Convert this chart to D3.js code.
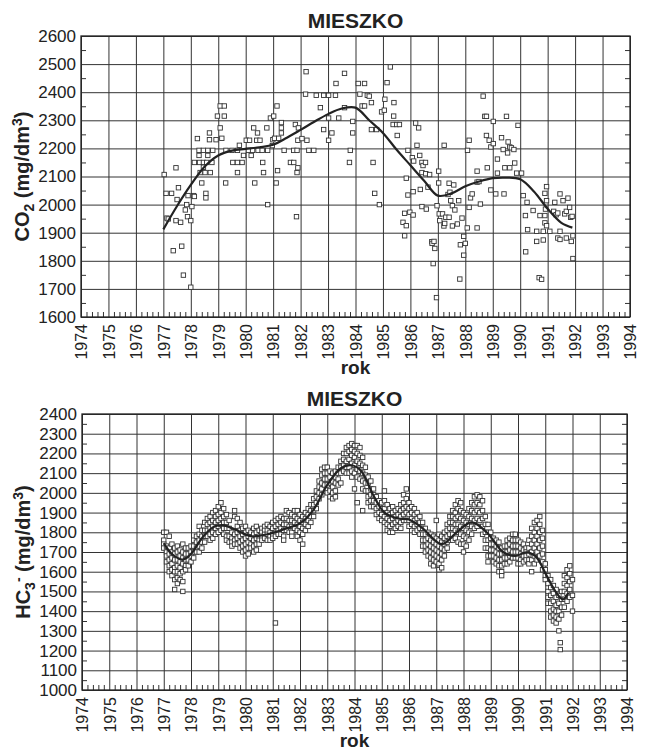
<!DOCTYPE html>
<html>
<head>
<meta charset="utf-8">
<script src="https://cdn.jsdelivr.net/npm/d3@7"></script>
<style>
body { margin: 0; background: #fff; }
text { font-family: "Liberation Sans", Arial, sans-serif; fill: #222; }
</style>
</head>
<body>
<script>
// values
const yearTicks = [1974, 1975, 1976, 1977, 1978, 1979, 1980, 1981, 1982, 1983, 1984,
    1985, 1986, 1987, 1988, 1989, 1990, 1991, 1992, 1993, 1994];
const co2Ticks = [1600, 1700, 1800, 1900, 2000, 2100, 2200, 2300, 2400, 2500, 2600];
const hcoTicks = [1000, 1100, 1200, 1300, 1400, 1500, 1600, 1700, 1800, 1900, 2000, 2100, 2200, 2300, 2400];

// CO2: [year, mg/dm3]
const co2Points = [
    [1977.03, 2107], [1977.13, 1952], [1977.18, 1949], [1977.1, 2040], [1977.3, 2040], [1977.36, 1836],
    [1977.46, 2131], [1977.46, 1943], [1977.5, 2018], [1977.55, 2060], [1977.63, 1937], [1977.67, 1852],
    [1977.73, 1749], [1977.8, 1981], [1977.85, 2000], [1977.88, 1957], [1977.9, 2032], [1978.0, 1943],
    [1978.0, 1706], [1978.04, 1993], [1978.1, 2032], [1978.13, 2150], [1978.13, 2029], [1978.24, 2235],
    [1978.3, 2193], [1978.3, 2175], [1978.32, 2150], [1978.34, 2114], [1978.4, 2077], [1978.46, 2193],
    [1978.46, 2150], [1978.46, 2133], [1978.52, 2114], [1978.55, 2040], [1978.55, 2024], [1978.58, 2150],
    [1978.62, 2193], [1978.62, 2175], [1978.68, 2255], [1978.68, 2231], [1978.71, 2114], [1978.77, 2150],
    [1978.8, 2193], [1978.92, 2231], [1978.97, 2315], [1979.07, 2273], [1979.07, 2351], [1979.13, 2236],
    [1979.22, 2315], [1979.22, 2351], [1979.27, 2077], [1979.28, 2193], [1979.5, 2193], [1979.53, 2150],
    [1979.7, 2150], [1979.7, 2114], [1979.7, 2193], [1979.77, 2211], [1979.87, 2150], [1979.92, 2175],
    [1980.02, 2229], [1980.1, 2193], [1980.14, 2229], [1980.2, 2175], [1980.25, 2193], [1980.29, 2273],
    [1980.33, 2077], [1980.4, 2229], [1980.43, 2255], [1980.45, 2193], [1980.52, 2229], [1980.6, 2193],
    [1980.62, 2150], [1980.65, 2114], [1980.77, 2273], [1980.8, 2193], [1980.8, 2000], [1980.9, 2308],
    [1980.97, 2210], [1980.99, 2231], [1981.02, 2315], [1981.05, 2236], [1981.11, 2077], [1981.14, 2351],
    [1981.16, 2121], [1981.2, 2236], [1981.3, 2292], [1981.3, 2273], [1981.3, 2255], [1981.4, 2193],
    [1981.63, 2150], [1981.75, 2150], [1981.75, 2193], [1981.81, 2285], [1981.85, 1957], [1981.87, 2193],
    [1981.87, 2114], [1981.9, 2131], [1981.9, 2229], [1981.92, 2273], [1982.05, 2235], [1982.18, 2393],
    [1982.2, 2473], [1982.23, 2229], [1982.3, 2193], [1982.48, 2193], [1982.57, 2389], [1982.72, 2345],
    [1982.84, 2389], [1982.84, 2267], [1983.02, 2389], [1983.02, 2308], [1983.02, 2229], [1983.14, 2255],
    [1983.27, 2389], [1983.29, 2431], [1983.39, 2308], [1983.6, 2467], [1983.6, 2345], [1983.78, 2150],
    [1983.81, 2193], [1983.9, 2296], [1983.9, 2255], [1984.1, 2431], [1984.16, 2393], [1984.24, 2351],
    [1984.33, 2431], [1984.33, 2351], [1984.43, 2389], [1984.5, 2386], [1984.58, 2363], [1984.58, 2267],
    [1984.64, 2150], [1984.7, 2040], [1984.77, 2267], [1984.87, 2000], [1984.95, 2330], [1985.05, 2336],
    [1985.07, 2375], [1985.15, 2434], [1985.27, 2490], [1985.39, 2315], [1985.4, 2363], [1985.37, 2285],
    [1985.5, 2285], [1985.52, 2246], [1985.6, 2285], [1985.73, 1937], [1985.79, 1969], [1985.79, 1889],
    [1985.85, 2094], [1985.85, 1925], [1985.91, 2193], [1985.91, 2034], [1985.98, 1973], [1986.07, 2167],
    [1986.1, 2046], [1986.1, 1963], [1986.12, 2155], [1986.19, 2290], [1986.24, 2211], [1986.3, 2273],
    [1986.34, 2175], [1986.36, 2054], [1986.42, 2150], [1986.42, 2114], [1986.42, 1993], [1986.46, 2139],
    [1986.55, 2150], [1986.56, 2110], [1986.58, 1984], [1986.64, 2062], [1986.7, 2107], [1986.78, 1868],
    [1986.79, 1862], [1986.83, 1790], [1986.86, 1869], [1986.89, 1844], [1986.95, 1669], [1986.97, 1996],
    [1987.03, 2119], [1987.03, 2077], [1987.05, 1967], [1987.07, 1943], [1987.17, 1967], [1987.22, 1924],
    [1987.23, 2211], [1987.25, 1933], [1987.29, 1955], [1987.37, 2036], [1987.41, 2076], [1987.41, 1955],
    [1987.44, 2044], [1987.47, 2014], [1987.53, 1996], [1987.53, 1924], [1987.58, 2070], [1987.62, 1981],
    [1987.71, 1931], [1987.76, 2014], [1987.8, 1735], [1987.82, 1857], [1987.88, 1952], [1987.94, 1887],
    [1987.94, 1820], [1988.0, 1862], [1988.07, 1917], [1988.08, 2193], [1988.14, 2229], [1988.14, 1990],
    [1988.19, 2024], [1988.25, 2038], [1988.43, 2080], [1988.43, 2119], [1988.43, 1917], [1988.5, 2082],
    [1988.55, 2002], [1988.65, 2386], [1988.71, 2314], [1988.77, 2314], [1988.77, 2246], [1988.8, 2131],
    [1988.87, 2229], [1988.93, 2205], [1988.93, 2052], [1989.02, 2217], [1989.02, 2296], [1989.11, 2038],
    [1989.17, 2162], [1989.17, 2112], [1989.32, 2238], [1989.38, 2196], [1989.41, 2038], [1989.44, 2131],
    [1989.5, 2314], [1989.54, 2184], [1989.56, 2223], [1989.62, 2205], [1989.62, 2131], [1989.68, 2202],
    [1989.77, 2196], [1989.8, 2148], [1989.87, 2112], [1989.92, 2282], [1990.05, 2112], [1990.11, 2032],
    [1990.19, 1961], [1990.2, 1832], [1990.25, 2008], [1990.27, 1911], [1990.47, 1979], [1990.6, 1905],
    [1990.6, 1869], [1990.69, 1740], [1990.72, 1961], [1990.78, 1734], [1990.84, 1905], [1990.84, 1874],
    [1990.9, 2040], [1990.9, 1961], [1990.9, 1935], [1990.92, 1984], [1990.96, 2064], [1990.96, 2014],
    [1990.96, 1925], [1991.08, 1905], [1991.22, 1976], [1991.26, 2008], [1991.31, 1964], [1991.37, 1970],
    [1991.37, 1881], [1991.45, 2038], [1991.45, 1905], [1991.45, 1876], [1991.56, 2014], [1991.62, 1967],
    [1991.68, 1976], [1991.68, 1881], [1991.74, 2023], [1991.8, 1990], [1991.84, 1955], [1991.86, 1869],
    [1991.89, 1958], [1991.92, 1889], [1991.92, 1808]
];

const co2Trend = [
    [1977.0, 1912], [1977.5, 1995], [1978.0, 2070], [1978.5, 2135], [1979.0, 2175], [1979.5, 2192],
    [1980.0, 2198], [1980.5, 2204], [1981.0, 2213], [1981.5, 2238], [1982.0, 2266], [1982.5, 2295],
    [1983.0, 2322], [1983.5, 2342], [1984.0, 2345], [1984.5, 2300], [1985.0, 2255], [1985.5, 2195],
    [1986.0, 2140], [1986.5, 2085], [1987.0, 2032], [1987.5, 2040], [1988.0, 2065], [1988.5, 2082],
    [1989.0, 2094], [1989.5, 2096], [1990.0, 2090], [1990.5, 2047], [1991.0, 1985], [1991.5, 1935],
    [1991.9, 1918]
];

// HC3-: [year, values measured around that time]
const hcoSamples = [
    [1977.0, [1800, 1760, 1740, 1720]], [1977.1, [1800, 1730, 1700, 1680, 1650]],
    [1977.2, [1780, 1720, 1690, 1660, 1630, 1600]], [1977.3, [1740, 1700, 1670, 1640, 1610, 1580]],
    [1977.4, [1720, 1690, 1660, 1620, 1600, 1560, 1510]], [1977.5, [1730, 1700, 1660, 1630, 1600, 1570, 1540]],
    [1977.6, [1710, 1680, 1650, 1620, 1590, 1560]], [1977.7, [1740, 1700, 1670, 1640, 1600, 1550, 1500]],
    [1977.8, [1720, 1690, 1660, 1630, 1610]], [1977.9, [1720, 1690, 1660, 1630]],
    [1978.0, [1730, 1700, 1680, 1650]], [1978.1, [1760, 1730, 1700, 1670]],
    [1978.2, [1780, 1750, 1720, 1700]], [1978.3, [1830, 1790, 1760, 1730, 1700]],
    [1978.4, [1810, 1780, 1750, 1720]], [1978.5, [1850, 1810, 1780, 1750]],
    [1978.6, [1870, 1840, 1810, 1780]], [1978.7, [1880, 1850, 1820, 1790, 1760]],
    [1978.8, [1900, 1860, 1830, 1800, 1770]], [1978.9, [1910, 1880, 1850, 1820, 1790]],
    [1979.0, [1930, 1890, 1860, 1830, 1800]], [1979.1, [1950, 1900, 1870, 1840, 1810]],
    [1979.2, [1920, 1880, 1850, 1820, 1790]], [1979.3, [1890, 1850, 1820, 1780, 1760]],
    [1979.4, [1860, 1820, 1780, 1750]], [1979.5, [1800, 1770, 1750, 1730]],
    [1979.6, [1910, 1880, 1790, 1760, 1740]], [1979.7, [1870, 1830, 1800, 1770, 1740]],
    [1979.8, [1850, 1810, 1780, 1750, 1720]], [1979.9, [1820, 1790, 1760, 1730, 1700]],
    [1980.0, [1830, 1800, 1770, 1740, 1710, 1680]], [1980.1, [1810, 1780, 1750, 1720, 1690]],
    [1980.2, [1800, 1770, 1740, 1720]], [1980.3, [1820, 1790, 1760, 1730, 1700]],
    [1980.4, [1830, 1800, 1770, 1740, 1710]], [1980.5, [1810, 1780, 1760, 1740]],
    [1980.6, [1820, 1800, 1780, 1760]], [1980.7, [1830, 1810, 1790, 1770]],
    [1980.8, [1840, 1810, 1790, 1760]], [1980.9, [1830, 1800, 1780, 1760]],
    [1981.0, [1850, 1820, 1790, 1770]], [1981.1, [1860, 1830, 1800, 1780, 1340]],
    [1981.2, [1870, 1840, 1810, 1790]], [1981.3, [1880, 1850, 1820, 1790]],
    [1981.4, [1870, 1840, 1810, 1780, 1760]], [1981.5, [1910, 1870, 1840, 1810]],
    [1981.6, [1900, 1860, 1830, 1800]], [1981.7, [1890, 1860, 1830, 1800, 1780]],
    [1981.8, [1910, 1880, 1850, 1820]], [1981.9, [1910, 1870, 1840, 1810, 1780]],
    [1982.0, [1890, 1860, 1830, 1800, 1760]], [1982.1, [1880, 1850, 1820, 1790, 1740]],
    [1982.2, [1900, 1870, 1840, 1810]], [1982.3, [1920, 1890, 1860, 1830]],
    [1982.4, [1940, 1910, 1880, 1850]], [1982.5, [1970, 1940, 1910, 1880]],
    [1982.6, [2010, 1980, 1950, 1920]], [1982.7, [2060, 2030, 2000, 1970]],
    [1982.8, [2120, 2090, 2050, 2020, 1990]], [1982.9, [2130, 2100, 2070, 2040]],
    [1983.0, [2130, 2100, 2070, 2040, 2000]], [1983.1, [2110, 2080, 2050, 2010, 1980]],
    [1983.2, [2100, 2060, 2030, 2000, 1970]], [1983.3, [2110, 2080, 2050, 2010, 1980]],
    [1983.4, [2130, 2100, 2070, 2040]], [1983.5, [2160, 2130, 2100, 2050]],
    [1983.6, [2200, 2170, 2140, 2110]], [1983.7, [2230, 2200, 2160, 2130, 2100]],
    [1983.8, [2240, 2210, 2170, 2130, 2100]], [1983.9, [2250, 2220, 2190, 2150, 2110, 2080]],
    [1984.0, [2240, 2210, 2180, 2140, 2100, 2020]], [1984.1, [2240, 2200, 2160, 2120, 2080, 1950]],
    [1984.2, [2230, 2190, 2150, 2110, 2070]], [1984.3, [2180, 2140, 2100, 2060, 2020, 1910]],
    [1984.4, [2130, 2090, 2050, 2010]], [1984.5, [2080, 2050, 2010, 1980, 1950]],
    [1984.6, [2060, 2020, 1990, 1960, 1930]], [1984.7, [2020, 1990, 1960, 1930]],
    [1984.8, [1980, 1950, 1920, 1890]], [1984.9, [1960, 1930, 1900, 1870]],
    [1985.0, [1950, 1920, 1890, 1860]], [1985.1, [2010, 1960, 1920, 1880, 1850]],
    [1985.2, [1940, 1900, 1870, 1840, 1810]], [1985.3, [1920, 1890, 1860, 1830, 1800]],
    [1985.4, [1930, 1900, 1870, 1840, 1800]], [1985.5, [1910, 1880, 1850, 1820]],
    [1985.6, [1920, 1890, 1860, 1830]], [1985.7, [1940, 1910, 1880, 1850, 1820]],
    [1985.8, [1990, 1950, 1920, 1890, 1860]], [1985.9, [2020, 1970, 1930, 1900, 1860]],
    [1986.0, [1950, 1920, 1890, 1860, 1830]], [1986.1, [1930, 1900, 1870, 1840]],
    [1986.2, [1920, 1890, 1860, 1830, 1800]], [1986.3, [1900, 1870, 1840, 1810]],
    [1986.4, [1880, 1850, 1820, 1790]], [1986.5, [1850, 1820, 1790, 1760, 1730]],
    [1986.6, [1820, 1790, 1760, 1730, 1700]], [1986.7, [1800, 1770, 1740, 1710, 1680]],
    [1986.8, [1790, 1760, 1730, 1700, 1670, 1640]], [1986.9, [1780, 1750, 1720, 1690, 1660, 1630]],
    [1987.0, [1860, 1770, 1740, 1710, 1680, 1650]], [1987.1, [1790, 1760, 1730, 1700, 1670, 1640, 1610]],
    [1987.2, [1780, 1750, 1720, 1690, 1660, 1620]], [1987.3, [1800, 1770, 1740, 1710, 1680]],
    [1987.4, [1840, 1810, 1780, 1750, 1720]], [1987.5, [1880, 1850, 1820, 1790, 1760]],
    [1987.6, [1910, 1880, 1850, 1820, 1790, 1760]], [1987.7, [1940, 1900, 1870, 1840, 1810, 1770]],
    [1987.8, [1960, 1920, 1880, 1840, 1800, 1750]], [1987.9, [1950, 1910, 1870, 1830, 1790, 1740]],
    [1988.0, [1900, 1860, 1820, 1780, 1740, 1700]], [1988.1, [1890, 1850, 1810, 1770, 1730]],
    [1988.2, [1920, 1880, 1840, 1800, 1760]], [1988.3, [1950, 1910, 1870, 1830, 1790]],
    [1988.4, [1980, 1940, 1900, 1860, 1820]], [1988.5, [1990, 1950, 1910, 1870, 1830]],
    [1988.6, [1980, 1940, 1900, 1860]], [1988.7, [1960, 1910, 1870, 1830, 1790]],
    [1988.8, [1880, 1840, 1800, 1760, 1720]], [1988.9, [1840, 1800, 1760, 1720, 1680, 1650]],
    [1989.0, [1800, 1770, 1740, 1710, 1680]], [1989.1, [1770, 1740, 1710, 1680, 1650]],
    [1989.2, [1760, 1730, 1700, 1670, 1640]], [1989.3, [1750, 1720, 1690, 1660, 1630, 1600]],
    [1989.4, [1720, 1690, 1660, 1630, 1600, 1580]], [1989.5, [1730, 1700, 1670, 1640]],
    [1989.6, [1760, 1730, 1700, 1670, 1640]], [1989.7, [1770, 1740, 1710, 1680, 1650]],
    [1989.8, [1790, 1760, 1730, 1700, 1670]], [1989.9, [1790, 1760, 1730, 1700, 1670]],
    [1990.0, [1760, 1730, 1700, 1670, 1640]], [1990.1, [1750, 1720, 1690, 1660, 1640]],
    [1990.2, [1740, 1710, 1680, 1650]], [1990.3, [1720, 1700, 1680, 1660]],
    [1990.4, [1760, 1720, 1690, 1660, 1640]], [1990.5, [1820, 1780, 1740, 1700, 1660, 1600]],
    [1990.6, [1850, 1800, 1760, 1720, 1680, 1640]], [1990.7, [1860, 1820, 1780, 1740, 1700, 1660]],
    [1990.8, [1880, 1840, 1800, 1760, 1720, 1680]], [1990.9, [1810, 1770, 1730, 1690, 1650, 1610]],
    [1991.0, [1640, 1610, 1580, 1560]], [1991.1, [1580, 1540, 1500, 1470, 1440]],
    [1991.2, [1560, 1520, 1480, 1440, 1400, 1370]], [1991.3, [1530, 1490, 1450, 1410, 1380, 1350]],
    [1991.4, [1510, 1470, 1430, 1400, 1370, 1340]], [1991.5, [1480, 1440, 1400, 1360, 1300]],
    [1991.55, [1240, 1205]], [1991.6, [1500, 1460, 1420, 1380]],
    [1991.7, [1580, 1540, 1500, 1460, 1420]], [1991.8, [1610, 1570, 1530, 1490, 1450]],
    [1991.9, [1630, 1590, 1550, 1510, 1470]], [1992.0, [1560, 1480, 1400]]
];

const hcoTrend = [
    [1977.0, 1745], [1977.3, 1690], [1977.7, 1662], [1978.0, 1690], [1978.4, 1770], [1978.8, 1825],
    [1979.15, 1836], [1979.6, 1815], [1980.2, 1780], [1980.8, 1790], [1981.5, 1820], [1982.0, 1845],
    [1982.5, 1915], [1983.0, 2040], [1983.5, 2125], [1983.9, 2140], [1984.25, 2110], [1984.7, 1985],
    [1985.1, 1900], [1985.6, 1870], [1986.0, 1865], [1986.5, 1820], [1987.2, 1740], [1987.75, 1800],
    [1988.3, 1850], [1988.85, 1800], [1989.45, 1700], [1989.9, 1680], [1990.3, 1698], [1990.65, 1678],
    [1991.05, 1580], [1991.4, 1495], [1991.65, 1460], [1991.85, 1495]
];

(function () {
    const width = 647;
    const height = 750;
    let svg = d3.select("body")
        .append("svg")
        .attr("width", width)
        .attr("height", height);

    function drawPanel(p) {
        let x = d3.scaleLinear()
            .domain([yearTicks[0], yearTicks[yearTicks.length - 1]])
            .range([p.left, p.right]);
        let y = d3.scaleLinear()
            .domain([p.ticks[0], p.ticks[p.ticks.length - 1]])
            .range([p.bottom, p.top]);
        let g = svg.append("g");
        let plotW = p.right - p.left;
        let plotH = p.bottom - p.top;

        // year gridlines + rotated labels
        let xAxis = g.append("g")
            .attr("transform", `translate(0, ${p.bottom})`)
            .call(d3.axisBottom(x).tickValues(yearTicks).tickSize(-plotH).tickFormat(d3.format("d")));
        xAxis.selectAll("text")
            .attr("transform", "rotate(-90)")
            .attr("text-anchor", "end")
            .attr("x", -7)
            .attr("y", 0)
            .attr("dy", "0.36em")
            .style("font-size", "16px");

        // value gridlines + labels
        g.append("g")
            .attr("transform", `translate(${p.left}, 0)`)
            .call(d3.axisLeft(y).tickValues(p.ticks).tickSize(-plotW).tickPadding(5).tickFormat(d3.format("d")))
            .selectAll("text")
            .style("font-size", "17px");

        // small inner ticks
        let minorY = d3.range(p.ticks[0] + 50, p.ticks[p.ticks.length - 1], 100);
        let minorX = d3.range(yearTicks[0], yearTicks[yearTicks.length - 1], 0.2)
            .filter(d => Math.abs(d - Math.round(d)) > 0.01);
        g.append("g")
            .attr("transform", `translate(${p.left}, 0)`)
            .call(d3.axisLeft(y).tickValues(minorY).tickSize(-5).tickFormat(""));
        g.append("g")
            .attr("transform", `translate(${p.right}, 0)`)
            .call(d3.axisRight(y).tickValues(minorY).tickSize(-5).tickFormat(""));
        g.append("g")
            .attr("transform", `translate(0, ${p.bottom})`)
            .call(d3.axisBottom(x).tickValues(minorX).tickSize(-5).tickFormat(""));

        g.selectAll(".domain").remove();
        g.selectAll(".tick line").attr("stroke", "#333").attr("stroke-width", 1);

        g.append("rect")
            .attr("x", p.left)
            .attr("y", p.top)
            .attr("width", plotW)
            .attr("height", plotH)
            .attr("fill", "none")
            .attr("stroke", "#222")
            .attr("stroke-width", 1.3);

        // measurements
        const s = 4.4;
        g.append("g")
            .selectAll("rect")
            .data(p.points)
            .enter()
            .append("rect")
            .attr("x", d => x(d[0]) - s / 2)
            .attr("y", d => y(d[1]) - s / 2)
            .attr("width", s)
            .attr("height", s)
            .attr("fill", "#fff")
            .attr("stroke", "#333")
            .attr("stroke-width", 0.9);

        // trend
        let line = d3.line()
            .curve(d3.curveCatmullRom.alpha(0.5))
            .x(d => x(d[0]))
            .y(d => y(d[1]));
        g.append("path")
            .datum(p.trend)
            .attr("d", line)
            .attr("fill", "none")
            .attr("stroke", "#222")
            .attr("stroke-width", 2.2);

        // titles
        g.append("text")
            .attr("x", (p.left + p.right) / 2)
            .attr("y", p.top - 8)
            .attr("text-anchor", "middle")
            .style("font-size", "21px")
            .style("font-weight", "bold")
            .text("MIESZKO");

        g.append("text")
            .attr("x", (p.left + p.right) / 2)
            .attr("y", p.bottom + 57)
            .attr("text-anchor", "middle")
            .style("font-size", "19px")
            .style("font-weight", "bold")
            .text("rok");

        let yl = g.append("text")
            .attr("transform", `translate(${p.left - 52}, ${(p.top + p.bottom) / 2}) rotate(-90)`)
            .attr("text-anchor", "middle")
            .style("font-size", "20px")
            .style("font-weight", "bold");
        p.ylabel.forEach(part => {
            let t = yl.append("tspan").text(part.t);
            if (part.dy) t.attr("dy", part.dy);
            if (part.small) t.style("font-size", "14px");
        });
    }

    drawPanel({
        left: 81, right: 630, top: 36, bottom: 317,
        ticks: co2Ticks,
        points: co2Points,
        trend: co2Trend,
        ylabel: [
            {t: "CO"}, {t: "2", dy: 5, small: true}, {t: " (mg/dm", dy: -5},
            {t: "3", dy: -7, small: true}, {t: ")", dy: 7}
        ]
    });

    let hcoPoints = [];
    hcoSamples.forEach(d => d[1].forEach(v => hcoPoints.push([d[0], v])));

    drawPanel({
        left: 82, right: 627, top: 414, bottom: 690,
        ticks: hcoTicks,
        points: hcoPoints,
        trend: hcoTrend,
        ylabel: [
            {t: "HC"}, {t: "3", dy: 5, small: true}, {t: "-", dy: -12, small: true},
            {t: " (mg/dm", dy: 7}, {t: "3", dy: -7, small: true}, {t: ")", dy: 7}
        ]
    });
})();
</script>
</body>
</html>
